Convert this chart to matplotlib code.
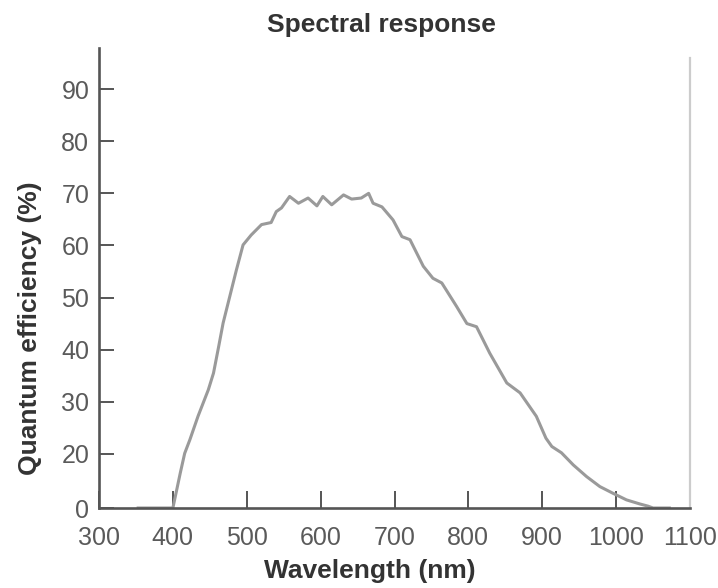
import numpy as np
import matplotlib
matplotlib.use("Agg")
import matplotlib.pyplot as plt

plt.rcParams['font.family'] = ['Liberation Sans', 'DejaVu Sans']

# spectral response
wavelength = [353, 400, 410, 416, 423, 434, 448, 455, 462, 468, 477, 486, 495,
              506, 520, 533, 540, 547, 558, 570, 583, 595, 603, 615, 631, 642,
              655, 665, 671, 683, 698, 710, 721, 739, 752, 764, 784, 798, 811,
              829, 852, 870, 892, 905, 913, 926, 942, 960, 978, 996, 1014, 1032,
              1043, 1050, 1072]
qe = [0, 0, 12.9, 20.1, 22.7, 27.2, 32.3, 35.5, 40.6, 45.1, 50.2, 55.3, 60.1,
      62.0, 64.0, 64.4, 66.5, 67.2, 69.4, 68.1, 69.1, 67.6, 69.4, 67.8, 69.7, 68.9,
      69.1, 70.0, 68.1, 67.4, 64.9, 61.7, 61.1, 56.0, 53.7, 52.8, 48.3, 45.0, 44.4,
      39.3, 33.6, 31.7, 27.2, 23.0, 21.4, 20.2, 15.9, 11.6, 7.9, 5.4, 3.0, 1.5,
      0.7, 0, 0]

xticks = [300, 400, 500, 600, 700, 800, 900, 1000, 1100]
yticks = [0, 20, 30, 40, 50, 60, 70, 80, 90]

# the original axis squeezes 0..20 into half a step (no 10 tick)
def fwd(v):
    v = np.asarray(v, dtype=float)
    return np.where(v < 20, 9.6 + v * (20 - 9.6) / 20, v)

def inv(p):
    p = np.asarray(p, dtype=float)
    return np.where(p < 20, (p - 9.6) * 20 / (20 - 9.6), p)

fig = plt.figure(figsize=(7.18, 5.88), dpi=100)
ax = fig.add_axes([99/718, 80/588, 591/718, 460/588])

ax.plot(wavelength, qe, color='#9a9a9a', lw=2.2, solid_joinstyle='round')

ax.set_yscale('function', functions=(fwd, inv))
ax.set_xlim(300, 1100)
ax.set_ylim(0, 97.9)
ax.set_xticks(xticks)
ax.set_yticks(yticks)
ax.set_xticklabels([str(t) for t in xticks])
ax.set_yticklabels([str(t) for t in yticks])

ax.tick_params(axis='x', direction='in', length=12, width=1.4, color='#555555',
               labelsize=18, labelcolor='#5a5a5a', pad=13)
ax.tick_params(axis='y', direction='in', length=11, width=1.4, color='#555555',
               labelsize=18, labelcolor='#5a5a5a', pad=7)

for s in ['left', 'bottom']:
    ax.spines[s].set_color('#555555')
    ax.spines[s].set_linewidth(1.9)
ax.spines['top'].set_visible(False)
ax.spines['right'].set_color('#cccccc')
ax.spines['right'].set_linewidth(1.6)
ax.spines['right'].set_bounds(0, 96)

ax.set_xlabel('Wavelength (nm)', fontsize=19, fontweight='bold', color='#333333')
ax.xaxis.set_label_coords(0.4585, -0.11)
ax.set_ylabel('Quantum efficiency (%)', fontsize=19, fontweight='bold', color='#333333')
ax.yaxis.set_label_coords(-0.096, 0.39)

fig.text(381/718, 1 - 13/588, 'Spectral response', ha='center', va='top',
         fontsize=19, fontweight='bold', color='#333333')

fig.savefig('out.png', dpi=100)
